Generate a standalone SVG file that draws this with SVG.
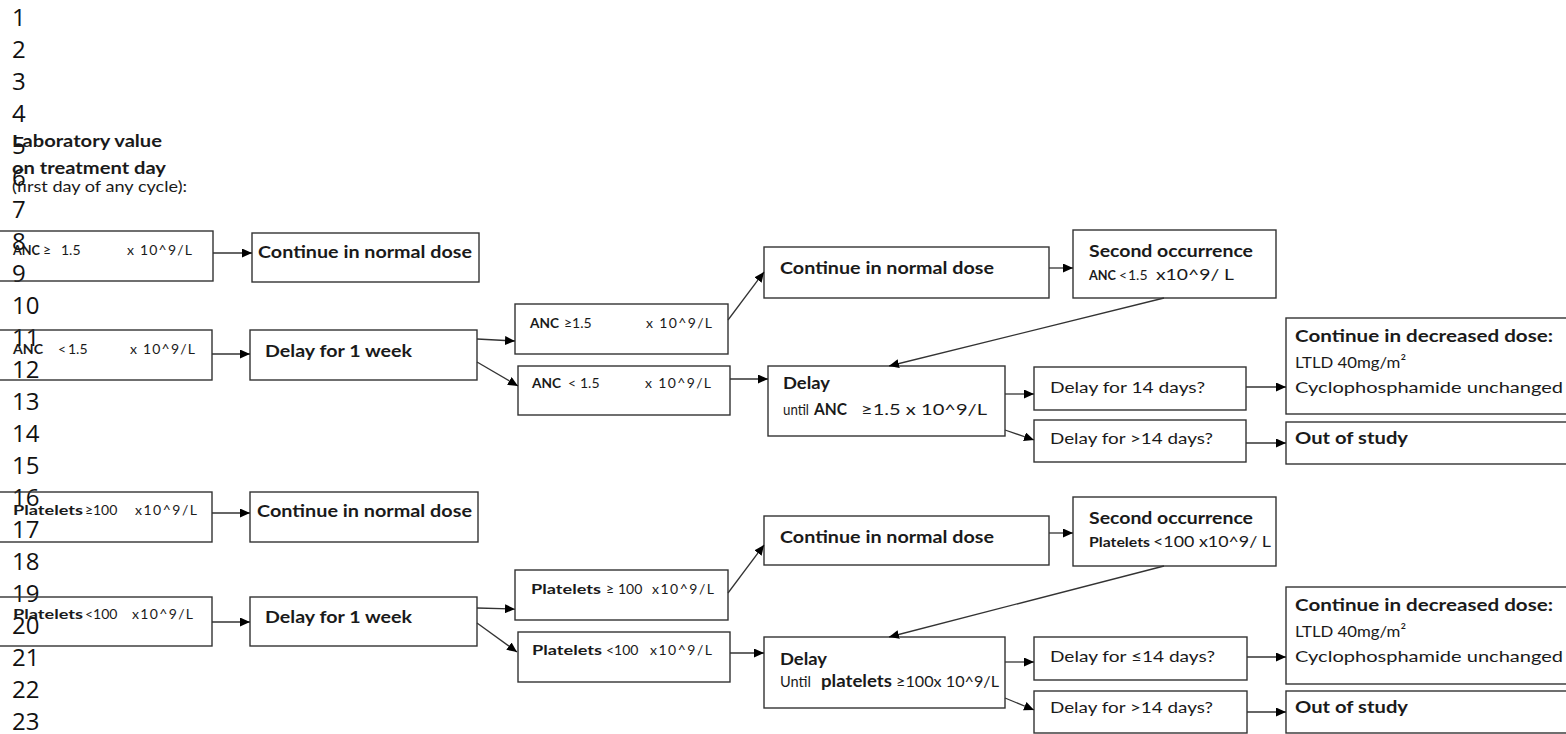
<svg xmlns="http://www.w3.org/2000/svg" width="1566" height="734" viewBox="0 0 1566 734">
<style>
.box{fill:none;stroke:#333;stroke-width:1.4}
.t{font-family:Lato,"Open Sans",sans-serif;font-size:16px;fill:#1a1a1a}
.b{font-weight:bold;font-size:17px}
.s{font-size:14px}
.sb{font-weight:bold;font-size:14px}
.ln{font-family:"Open Sans",sans-serif;font-size:24px;fill:#111}
.c{stroke:#333;stroke-width:1.3;fill:none;marker-end:url(#ah)}
</style>
<defs>
<marker id="ah" markerWidth="10" markerHeight="9" refX="10" refY="4.5" orient="auto" markerUnits="userSpaceOnUse">
<path d="M0,0 L10,4.5 L0,9 z" fill="#000"/>
</marker>
</defs>
<rect x="0" y="0" width="1566" height="734" fill="#fff"/>

<g id="line-numbers" class="ln">
<text x="12" y="26">1</text><text x="12" y="58">2</text><text x="12" y="90">3</text><text x="12" y="122">4</text>
<text x="12" y="154">5</text><text x="12" y="186">6</text><text x="12" y="218">7</text><text x="12" y="250">8</text>
<text x="12" y="282">9</text><text x="12" y="314">10</text><text x="12" y="346">11</text><text x="12" y="378">12</text>
<text x="12" y="410">13</text><text x="12" y="442">14</text><text x="12" y="474">15</text><text x="12" y="506">16</text>
<text x="12" y="538">17</text><text x="12" y="570">18</text><text x="12" y="602">19</text><text x="12" y="634">20</text>
<text x="12" y="666">21</text><text x="12" y="698">22</text><text x="12" y="730">23</text>
</g>

<g id="header" class="t">
<text x="12" y="147" class="b" textLength="150" lengthAdjust="spacingAndGlyphs">Laboratory value</text>
<text x="12" y="174" class="b" textLength="154" lengthAdjust="spacingAndGlyphs">on treatment day</text>
<text x="12" y="192" font-size="15" textLength="175" lengthAdjust="spacingAndGlyphs">(first day of any cycle):</text>
</g>

<!-- ANC section -->
<g id="anc-ge-1" class="t">
<rect class="box" x="-1" y="231" width="214" height="50"/>
<text x="13" y="255" class="sb" textLength="27" lengthAdjust="spacingAndGlyphs">ANC</text><text x="43" y="255" class="s">≥</text><text x="61" y="255" class="s">1.5</text><text x="127" y="255" class="s" textLength="65">x 10^9/L</text>
</g>
<g id="anc-continue-1" class="t">
<rect class="box" x="252" y="233" width="227" height="49"/>
<text x="258" y="258" class="b" textLength="214" lengthAdjust="spacingAndGlyphs">Continue in normal dose</text>
</g>
<g id="anc-lt-1" class="t">
<rect class="box" x="-1" y="330" width="213" height="50"/>
<text x="13" y="354" class="sb" textLength="30" lengthAdjust="spacingAndGlyphs">ANC</text><text x="58" y="354" class="s">&lt;</text><text x="68" y="354" class="s">1.5</text><text x="130" y="354" class="s" textLength="65">x 10^9/L</text>
</g>
<g id="anc-delay-week" class="t">
<rect class="box" x="250" y="330" width="227" height="50"/>
<text x="265" y="357" class="b" textLength="147" lengthAdjust="spacingAndGlyphs">Delay for 1 week</text>
</g>
<g id="anc-ge-2" class="t">
<rect class="box" x="515" y="304" width="213" height="50"/>
<text x="530" y="328" class="sb" textLength="29" lengthAdjust="spacingAndGlyphs">ANC</text><text x="564" y="328" class="s">≥1.5</text><text x="646" y="328" class="s" textLength="66">x 10^9/L</text>
</g>
<g id="anc-lt-2" class="t">
<rect class="box" x="518" y="366" width="212" height="49"/>
<text x="532" y="388" class="sb" textLength="29" lengthAdjust="spacingAndGlyphs">ANC</text><text x="568" y="388" class="s">&lt;</text><text x="580" y="388" class="s">1.5</text><text x="645" y="388" class="s" textLength="66">x 10^9/L</text>
</g>
<g id="anc-continue-2" class="t">
<rect class="box" x="764" y="247" width="285" height="51"/>
<text x="780" y="274" class="b" textLength="214" lengthAdjust="spacingAndGlyphs">Continue in normal dose</text>
</g>
<g id="anc-delay" class="t">
<rect class="box" x="768" y="366" width="237" height="70"/>
<text x="783" y="389" class="b" textLength="47" lengthAdjust="spacingAndGlyphs">Delay</text>
<text x="783" y="415" textLength="26" lengthAdjust="spacingAndGlyphs">until</text><text x="814" y="415" class="b" textLength="33" lengthAdjust="spacingAndGlyphs">ANC</text><text x="861" y="415" font-size="15" textLength="126" lengthAdjust="spacingAndGlyphs">≥1.5 x 10^9/L</text>
</g>
<g id="anc-second" class="t">
<rect class="box" x="1073" y="230" width="203" height="68"/>
<text x="1089" y="257" class="b" textLength="164" lengthAdjust="spacingAndGlyphs">Second occurrence</text>
<text x="1089" y="280" class="sb" textLength="27" lengthAdjust="spacingAndGlyphs">ANC</text><text x="1119" y="280" class="s">&lt;</text><text x="1128" y="280" class="s">1.5</text><text x="1156" y="280" font-size="15" textLength="78" lengthAdjust="spacingAndGlyphs">x10^9/ L</text>
</g>
<g id="anc-delay-14" class="t">
<rect class="box" x="1034" y="367" width="212" height="43"/>
<text x="1050" y="393" textLength="155" lengthAdjust="spacingAndGlyphs">Delay for  14 days?</text>
</g>
<g id="anc-delay-gt14" class="t">
<rect class="box" x="1034" y="420" width="212" height="42"/>
<text x="1050" y="444" textLength="163" lengthAdjust="spacingAndGlyphs">Delay for &gt;14 days?</text>
</g>
<g id="anc-decreased" class="t">
<rect class="box" x="1286" y="318" width="290" height="96"/>
<text x="1295" y="342" class="b" textLength="258" lengthAdjust="spacingAndGlyphs">Continue in decreased dose:</text>
<text x="1295" y="368" textLength="111" lengthAdjust="spacingAndGlyphs">LTLD 40mg/m²</text>
<text x="1295" y="393" textLength="268" lengthAdjust="spacingAndGlyphs">Cyclophosphamide  unchanged</text>
</g>
<g id="anc-out" class="t">
<rect class="box" x="1286" y="422" width="290" height="42"/>
<text x="1295" y="444" class="b" textLength="113" lengthAdjust="spacingAndGlyphs">Out of study</text>
</g>

<!-- Platelets section -->
<g id="plt-ge-1" class="t">
<rect class="box" x="-1" y="492" width="213" height="50"/>
<text x="13" y="515" class="sb" textLength="70" lengthAdjust="spacingAndGlyphs">Platelets</text><text x="85" y="515" class="s">≥</text><text x="93" y="515" class="s">100</text><text x="135" y="515" class="s" textLength="62">x10^9/L</text>
</g>
<g id="plt-continue-1" class="t">
<rect class="box" x="250" y="492" width="228" height="50"/>
<text x="257" y="517" class="b" textLength="215" lengthAdjust="spacingAndGlyphs">Continue in normal dose</text>
</g>
<g id="plt-lt-1" class="t">
<rect class="box" x="-1" y="597" width="213" height="49"/>
<text x="13" y="619" class="sb" textLength="70" lengthAdjust="spacingAndGlyphs">Platelets</text><text x="85" y="619" class="s">&lt;100</text><text x="132" y="619" class="s" textLength="61">x10^9/L</text>
</g>
<g id="plt-delay-week" class="t">
<rect class="box" x="250" y="597" width="227" height="49"/>
<text x="265" y="623" class="b" textLength="147" lengthAdjust="spacingAndGlyphs">Delay for 1 week</text>
</g>
<g id="plt-ge-2" class="t">
<rect class="box" x="515" y="570" width="213" height="50"/>
<text x="531" y="594" class="sb" textLength="70" lengthAdjust="spacingAndGlyphs">Platelets</text><text x="606" y="594" class="s">≥</text><text x="618" y="594" class="s">100</text><text x="652" y="594" class="s" textLength="62">x10^9/L</text>
</g>
<g id="plt-lt-2" class="t">
<rect class="box" x="518" y="632" width="212" height="50"/>
<text x="532" y="655" class="sb" textLength="70" lengthAdjust="spacingAndGlyphs">Platelets</text><text x="606" y="655" class="s">&lt;100</text><text x="650" y="655" class="s" textLength="62">x10^9/L</text>
</g>
<g id="plt-continue-2" class="t">
<rect class="box" x="764" y="516" width="285" height="49"/>
<text x="780" y="543" class="b" textLength="214" lengthAdjust="spacingAndGlyphs">Continue in normal dose</text>
</g>
<g id="plt-delay" class="t">
<rect class="box" x="764" y="637" width="241" height="71"/>
<text x="780" y="665" class="b" textLength="47" lengthAdjust="spacingAndGlyphs">Delay</text>
<text x="780" y="687" font-size="15" textLength="31" lengthAdjust="spacingAndGlyphs">Until</text><text x="821" y="687" class="b" textLength="71" lengthAdjust="spacingAndGlyphs">platelets</text><text x="896" y="687" textLength="103" lengthAdjust="spacingAndGlyphs">≥100x 10^9/L</text>
</g>
<g id="plt-second" class="t">
<rect class="box" x="1073" y="497" width="203" height="69"/>
<text x="1089" y="524" class="b" textLength="164" lengthAdjust="spacingAndGlyphs">Second occurrence</text>
<text x="1089" y="547" class="sb" textLength="61" lengthAdjust="spacingAndGlyphs">Platelets</text><text x="1153" y="547" font-size="15" textLength="118" lengthAdjust="spacingAndGlyphs">&lt;100 x10^9/ L</text>
</g>
<g id="plt-delay-14" class="t">
<rect class="box" x="1034" y="637" width="213" height="43"/>
<text x="1050" y="662" textLength="165" lengthAdjust="spacingAndGlyphs">Delay for ≤14 days?</text>
</g>
<g id="plt-delay-gt14" class="t">
<rect class="box" x="1034" y="691" width="213" height="42"/>
<text x="1050" y="713" textLength="163" lengthAdjust="spacingAndGlyphs">Delay for &gt;14 days?</text>
</g>
<g id="plt-decreased" class="t">
<rect class="box" x="1286" y="587" width="290" height="97"/>
<text x="1295" y="611" class="b" textLength="258" lengthAdjust="spacingAndGlyphs">Continue in decreased dose:</text>
<text x="1295" y="637" textLength="111" lengthAdjust="spacingAndGlyphs">LTLD 40mg/m²</text>
<text x="1295" y="662" textLength="268" lengthAdjust="spacingAndGlyphs">Cyclophosphamide  unchanged</text>
</g>
<g id="plt-out" class="t">
<rect class="box" x="1286" y="691" width="290" height="42"/>
<text x="1295" y="713" class="b" textLength="113" lengthAdjust="spacingAndGlyphs">Out of study</text>
</g>

<g id="connectors">
<line class="c" x1="213" y1="253" x2="252" y2="253"/>
<line class="c" x1="212" y1="354" x2="250" y2="354"/>
<line class="c" x1="477" y1="339" x2="515" y2="341"/>
<line class="c" x1="477" y1="362" x2="518" y2="386"/>
<line class="c" x1="728" y1="320" x2="764" y2="272"/>
<line class="c" x1="730" y1="379" x2="768" y2="379"/>
<line class="c" x1="1049" y1="268" x2="1073" y2="268"/>
<line class="c" x1="1164" y1="298" x2="889" y2="366"/>
<line class="c" x1="1005" y1="394" x2="1034" y2="394"/>
<line class="c" x1="1005" y1="430" x2="1034" y2="440"/>
<line class="c" x1="1246" y1="387" x2="1286" y2="387"/>
<line class="c" x1="1246" y1="443" x2="1286" y2="443"/>
<line class="c" x1="212" y1="513" x2="250" y2="513"/>
<line class="c" x1="212" y1="622" x2="250" y2="622"/>
<line class="c" x1="477" y1="608" x2="515" y2="609"/>
<line class="c" x1="477" y1="623" x2="517" y2="652"/>
<line class="c" x1="728" y1="593" x2="764" y2="545"/>
<line class="c" x1="730" y1="653" x2="764" y2="653"/>
<line class="c" x1="1049" y1="533" x2="1073" y2="533"/>
<line class="c" x1="1164" y1="566" x2="889" y2="637"/>
<line class="c" x1="1005" y1="662" x2="1034" y2="662"/>
<line class="c" x1="1005" y1="698" x2="1034" y2="710"/>
<line class="c" x1="1247" y1="657" x2="1286" y2="657"/>
<line class="c" x1="1247" y1="712" x2="1286" y2="712"/>
</g>
</svg>
